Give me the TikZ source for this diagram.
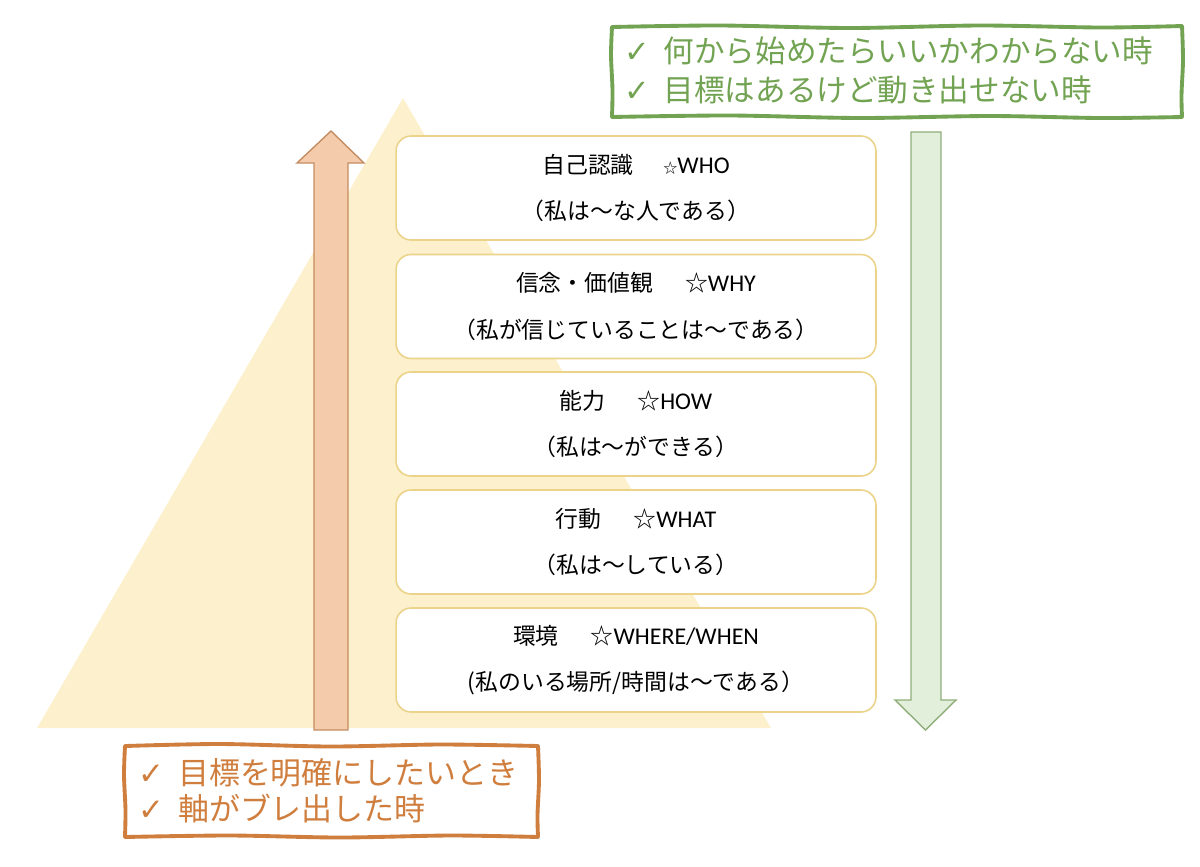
\documentclass[tikz,border=0pt]{standalone}
\usepackage{fontspec}
\setmainfont{Noto Sans CJK JP}
\newfontfamily\latf{Carlito}[Scale=1.05]
\newfontfamily\symf{DejaVu Sans}
\definecolor{triY}{HTML}{FCF0CD}
\definecolor{boxB}{HTML}{EBD38A}
\definecolor{orF}{HTML}{F4CCAC}
\definecolor{orD}{HTML}{C58D63}
\definecolor{grF}{HTML}{E2EFDA}
\definecolor{grD}{HTML}{8FAE7A}
\definecolor{grT}{HTML}{72A352}
\definecolor{orT}{HTML}{D07E3E}
\newcommand{\ck}{{\symf ✓}\hspace{0.45em}}
\begin{document}
\begin{tikzpicture}[x=0.02cm,y=-0.02cm,
  lvl/.style={draw=boxB, line width=0.9pt, fill=white, rounded corners=0.3cm,
    minimum width=9.6cm, minimum height=2.08cm, align=center,
    font=\fontsize{13}{26.5}\selectfont},
  wedge/.style={line width=2.2pt, line cap=round, line join=round},
  gline/.style={text=grT, anchor=west, inner sep=0pt, font=\fontsize{17.4}{20}\selectfont},
  oline/.style={text=orT, anchor=west, inner sep=0pt, font=\fontsize{17.6}{20}\selectfont}
]
\useasboundingbox (0,0) rectangle (1200,866);
% pyramid
\fill[triY] (403,98) -- (37,728) -- (771,728) -- cycle;
% orange up arrow
\draw[fill=orF, draw=orD, line width=0.8pt, line join=miter]
  (314,730) -- (314,163) -- (297,163) -- (331,131) -- (364,163) -- (348,163) -- (348,730) -- cycle;
% green down arrow
\draw[fill=grF, draw=grD, line width=0.8pt, line join=miter]
  (911,132) -- (941,132) -- (941,700) -- (956,700) -- (925.5,730) -- (895,700) -- (911,700) -- cycle;
% levels
\node[lvl] (b1) at (636,188) {自己認識\hspace{1.3em}{\footnotesize ☆}{\latf WHO}\\（私は～な人である）};
\node[lvl] (b2) at (636,306.5) {信念・価値観\hspace{1.4em}☆{\latf WHY}\\（私が信じていることは～である）};
\node[lvl] (b3) at (636,424) {能力\hspace{1.4em}☆{\latf HOW}\\（私は～ができる）};
\node[lvl] (b4) at (636,542) {行動\hspace{1.4em}☆{\latf WHAT}\\（私は～している）};
\node[lvl] (b5) at (636,660) {環境\hspace{1.4em}☆{\latf WHERE/WHEN}\\(私のいる場所/時間は～である）};
% green note
\fill[white] (612,27) rectangle (1182,117);
\draw[wedge, grT] plot[smooth] coordinates {(612,27) (720,25.5) (850,28) (980,25.5) (1100,27.5) (1182,26)};
\draw[wedge, grT] plot[smooth] coordinates {(1182,26) (1183,60) (1181.5,95) (1182,117)};
\draw[wedge, grT] plot[smooth] coordinates {(612,117) (730,115.5) (860,118) (990,116) (1100,118) (1182,117)};
\draw[wedge, grT] plot[smooth] coordinates {(612,27) (611,55) (612.5,90) (612,117)};
\node[gline] (g1) at (624,51) {\ck 何から始めたらいいかわからない時};
\node[gline] (g2) at (624,90) {\ck 目標はあるけど動き出せない時};
% orange note
\fill[white] (125,745) rectangle (538,837);
\draw[wedge, orT] plot[smooth] coordinates {(125,746) (220,744) (330,746.5) (440,744.5) (538,746)};
\draw[wedge, orT] plot[smooth] coordinates {(538,746) (539,780) (537.5,815) (538,837)};
\draw[wedge, orT] plot[smooth] coordinates {(125,837) (230,835.5) (340,837.5) (450,835.5) (538,837)};
\draw[wedge, orT] plot[smooth] coordinates {(125,746) (124,775) (125.5,810) (125,837)};
\node[oline] (o1) at (138,773) {\ck 目標を明確にしたいとき};
\node[oline] (o2) at (138,808) {\ck 軸がブレ出した時};
\end{tikzpicture}
\end{document}
